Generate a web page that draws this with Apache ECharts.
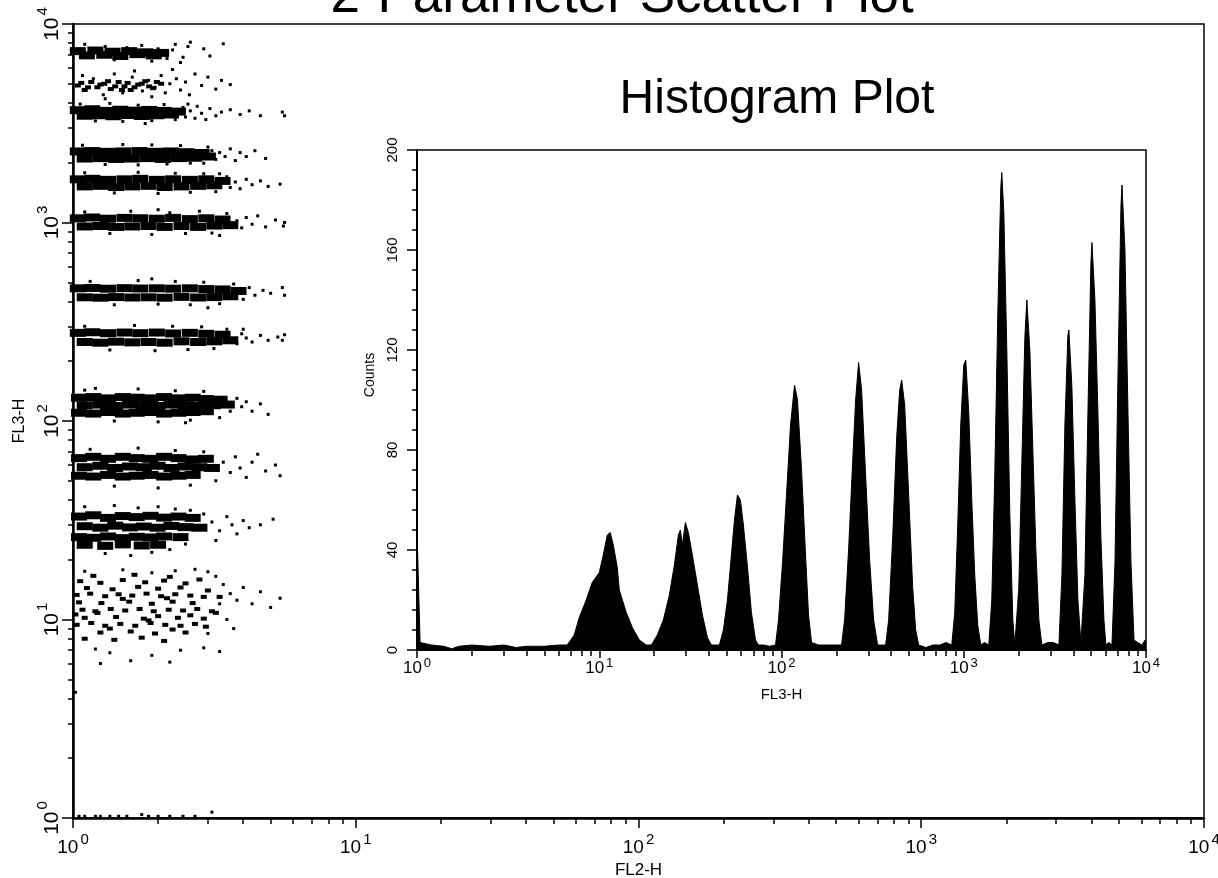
<!DOCTYPE html>
<html><head><meta charset="utf-8">
<script src="https://cdn.jsdelivr.net/npm/echarts@6/dist/echarts.min.js"></script>
<style>html,body{margin:0;padding:0;background:#fff}#c{width:1218px;height:878px}</style>
</head><body><div id="c"></div>
<script>
const mainTitle = '2-Parameter Scatter Plot';
const insetTitle = 'Histogram Plot';
const scatterXName = 'FL2-H';
const scatterYName = 'FL3-H';
const histXName = 'FL3-H';
const histYName = 'Counts';
const decadeTicks = [1, 10, 100, 1000, 10000];
const decadeExponents = ['0', '1', '2', '3', '4'];
const minorLogTicks = [2,3,4,5,6,7,8,9,20,30,40,50,60,70,80,90,200,300,400,500,600,700,800,900,2000,3000,4000,5000,6000,7000,8000,9000];
const countTicks = [0, 40, 80, 120, 160, 200];

// scatter populations (FL2-H, FL3-H); "core" = dense band, "spray" = scattered events
const popA_core = [[1.04,7300],[1.12,6950],[1.2,7350],[1.29,7000],[1.38,7250],[1.47,6900],[1.58,7300],[1.69,7050],[1.8,7200],[1.93,6950],[2.05,7150]];
const popA_spray = [[1.1,7900],[1.3,7700],[1.55,7600],[1.75,7800],[2.0,7500],[2.15,6700],[2.25,7400],[2.3,7900],[2.45,6800],[2.55,7700],[2.6,8100],[2.9,7500],[3.05,6900],[3.4,7950],[1.4,6600],[1.9,6500],[2.4,6400]];
const popB_core = [[1.04,4900],[1.1,4650],[1.16,5100],[1.22,4800],[1.29,5000],[1.36,4700],[1.45,5100],[1.52,4850],[1.6,4650],[1.7,4950],[1.8,5150],[1.92,4750],[2.05,5000],
  [1.07,5050],[1.13,4800],[1.25,4950],[1.33,5150],[1.41,4850],[1.49,4650],[1.56,5050],[1.65,4800],[1.75,5000],[1.86,4850],[1.98,5100]];
const popB_spray = [[1.08,5500],[1.18,5300],[1.28,4400],[1.4,5600],[1.5,4500],[1.62,5400],[1.76,4600],[1.85,5200],[1.95,4800],[2.05,5500],[2.12,4500],[2.2,5000],[2.32,5300],[2.4,4650],[2.5,5100],[2.58,4400],[2.7,5600],[2.85,4900],[3.0,5400],[3.2,4700],[3.35,5200],[3.6,4950],[1.65,5800],[2.25,5900],[1.3,4200],[1.9,4300]];
const popC_core = [[1.04,3680],[1.1,3450],[1.17,3720],[1.24,3470],[1.31,3650],[1.39,3430],[1.47,3700],[1.56,3480],[1.65,3660],[1.75,3440],[1.86,3690],[1.97,3470],[2.09,3650],[2.22,3500],[2.35,3620]];
const popC_spray = [[1.06,3950],[1.2,3250],[1.35,3980],[1.5,3230],[1.7,3900],[1.9,3260],[2.1,3930],[2.3,3300],[2.45,3800],[2.5,3400],[2.6,3650],[2.7,3350],[2.75,3850],[2.85,3550],[2.95,3300],[3.05,3750],[3.2,3450],[3.35,3600],[3.6,3700],[3.9,3500],[4.2,3650],[4.6,3450],[5.5,3600],[5.6,3450],[2.55,3950],[1.8,3150]];
const popD_core = [[1.04,2280],[1.1,2100],[1.17,2290],[1.25,2110],[1.33,2270],[1.42,2090],[1.51,2280],[1.61,2100],[1.72,2290],[1.83,2110],[1.95,2270],[2.08,2090],[2.22,2280],[2.37,2110],[2.52,2260],[2.68,2120],[2.85,2240],[3.0,2150]];
const popD_spray = [[1.08,2450],[1.3,1960],[1.5,2470],[1.7,1950],[1.9,2460],[2.15,1970],[2.4,2440],[2.6,1990],[3.1,2300],[3.2,2080],[3.3,2250],[3.45,2150],[3.6,2350],[3.75,2050],[3.9,2250],[4.1,2150],[4.4,2300],[4.8,2100],[3.0,2400],[2.9,1990]];
const popE_core = [[1.04,1650],[1.1,1520],[1.17,1660],[1.25,1530],[1.33,1640],[1.42,1510],[1.52,1650],[1.62,1520],[1.73,1660],[1.85,1530],[1.98,1640],[2.11,1510],[2.26,1650],[2.42,1520],[2.59,1640],[2.77,1530],[2.96,1650],[3.16,1540],[3.38,1620]];
const popE_spray = [[1.1,1780],[1.4,1410],[1.7,1790],[2.0,1400],[2.3,1770],[2.6,1420],[2.9,1760],[3.2,1430],[3.5,1700],[3.6,1500],[3.75,1600],[3.9,1480],[4.1,1650],[4.3,1550],[4.6,1620],[4.9,1520],[5.4,1560],[3.3,1760]];
const popF_core = [[1.04,1050],[1.1,955],[1.17,1060],[1.25,960],[1.33,1045],[1.42,950],[1.52,1055],[1.62,955],[1.73,1050],[1.85,960],[1.98,1045],[2.11,950],[2.26,1055],[2.42,960],[2.59,1040],[2.77,950],[2.96,1050],[3.16,965],[3.38,1035],[3.6,970]];
const popF_spray = [[1.1,1130],[1.35,880],[1.6,1140],[1.9,870],[2.2,1120],[2.5,880],[2.8,1140],[3.1,885],[3.5,1110],[3.8,1020],[3.95,940],[4.1,1060],[4.3,980],[4.5,1080],[4.8,950],[5.2,1030],[5.6,1000],[5.55,960],[2.0,1160],[3.3,860]];
const popG_core = [[1.04,466],[1.1,420],[1.17,468],[1.25,418],[1.33,464],[1.42,421],[1.52,467],[1.62,419],[1.73,465],[1.85,420],[1.98,466],[2.11,418],[2.26,464],[2.42,422],[2.59,466],[2.77,419],[2.96,462],[3.16,421],[3.38,460],[3.6,425],[3.85,452]];
const popG_spray = [[1.15,505],[1.4,385],[1.7,510],[2.0,388],[2.3,505],[2.6,385],[2.9,500],[3.3,390],[3.7,490],[4.0,410],[4.2,470],[4.4,430],[4.7,455],[5.0,440],[5.5,470],[5.6,430],[1.9,520],[3.0,372]];
const popH_core = [[1.04,278],[1.1,250],[1.17,280],[1.25,248],[1.33,277],[1.42,251],[1.52,279],[1.62,249],[1.73,277],[1.85,250],[1.98,279],[2.11,248],[2.26,276],[2.42,252],[2.59,278],[2.77,250],[2.96,275],[3.16,252],[3.38,272],[3.6,255]];
const popH_spray = [[1.1,300],[1.35,228],[1.65,303],[1.95,226],[2.25,300],[2.55,229],[2.85,298],[3.15,232],[3.5,290],[3.8,245],[3.95,275],[4.1,262],[4.3,250],[4.6,270],[4.9,255],[5.3,265],[5.6,272],[5.5,255],[4.0,290]];
const popI_core = [[1.05,131],[1.18,132],[1.33,130],[1.5,132],[1.68,131],[1.88,130],[2.1,132],[2.36,130],[2.65,131],[2.95,129],[3.3,128],
  [1.1,120],[1.25,121],[1.41,119],[1.59,121],[1.78,120],[1.99,119],[2.23,121],[2.5,120],[2.8,119],[3.12,120],[3.5,121],
  [1.05,110],[1.18,109],[1.33,111],[1.5,109],[1.68,110],[1.88,111],[2.1,109],[2.36,110],[2.65,111],[2.95,112]];
const popI_spray = [[1.1,143],[1.4,100],[1.7,145],[2.0,99],[2.3,142],[2.6,101],[2.9,141],[3.3,104],[3.6,112],[3.8,130],[3.95,118],[4.1,125],[4.3,112],[4.6,122],[4.9,108],[1.2,146],[2.5,98]];
const popJ_core = [[1.05,65],[1.18,66],[1.33,64.5],[1.5,66],[1.68,65],[1.88,64.5],[2.1,66],[2.36,65],[2.65,64],[2.95,64.5],
  [1.1,58.5],[1.25,59.5],[1.41,58],[1.59,59],[1.78,58.5],[1.99,59.5],[2.23,58],[2.5,59],[2.8,58.5],[3.1,58],
  [1.05,53],[1.18,52.5],[1.33,53.5],[1.5,52.5],[1.68,53],[1.88,53.5],[2.1,52.5],[2.36,53],[2.65,53.5]];
const popJ_spray = [[1.15,72],[1.4,47],[1.7,73],[2.0,46],[2.3,71],[2.6,47.5],[2.9,70],[3.2,50],[3.4,62],[3.6,55],[3.75,66],[3.9,58],[4.1,52],[4.3,62],[4.8,56],[5.2,60],[5.4,53],[4.5,68]];
const popK_core = [[1.05,33],[1.18,33.5],[1.33,32.5],[1.5,33.2],[1.68,32.8],[1.88,33.3],[2.1,32.6],[2.36,33],[2.65,32.5],
  [1.1,29.5],[1.25,29],[1.41,29.7],[1.59,29.1],[1.78,29.4],[1.99,29],[2.23,29.6],[2.5,29.2],[2.8,29],
  [1.05,26],[1.18,25.8],[1.33,26.2],[1.5,25.7],[1.68,26.1],[1.88,25.9],[2.1,26.2],[2.4,26],
  [1.1,23.8],[1.3,23.5],[1.5,23.9],[1.75,23.6],[2.0,23.8]];
const popK_spray = [[1.1,37],[1.4,37.5],[1.7,36.5],[2.0,37],[2.3,36],[2.6,35.5],[2.9,34],[3.1,31],[3.3,28],[3.5,33],[3.65,30],[3.8,27],[4.0,31.5],[4.2,29],[4.6,30],[5.1,32],[3.2,25],[1.3,21.5],[1.6,21],[1.9,21.8],[2.2,22.5],[2.5,24]];
const popL_core = [[1.06,15.6],[1.25,15.3],[1.5,15.8],[1.8,15.4],[2.1,15.7],[2.5,15.2],
  [1.03,13.3],[1.15,13.5],[1.3,13.1],[1.45,13.4],[1.62,13.2],[1.82,13.5],[2.05,13.1],[2.3,13.4],[2.6,13.2],[2.9,13.0],
  [1.08,11.2],[1.2,11.0],[1.36,11.3],[1.53,11.1],[1.72,11.3],[1.93,11.0],[2.18,11.2],[2.45,11.1],[2.75,11.3],[3.1,11.0],
  [1.03,9.4],[1.16,9.6],[1.3,9.3],[1.47,9.5],[1.66,9.3],[1.88,9.6],[2.12,9.4],[2.4,9.3],[2.7,9.5],
  [1.1,8.0],[1.4,7.9],[1.75,8.1],[2.1,7.8],
  [1.12,14.4],[1.38,14.2],[1.7,14.6],[2.0,14.3],[2.4,14.5],[1.05,12.2],[1.26,12.1],[1.58,12.3],[1.9,12.0],[2.25,12.3],[2.65,12.1],
  [1.1,10.2],[1.42,10.3],[1.78,10.1],[2.0,10.4],[2.35,10.2],[2.9,10.1],[1.25,8.6],[1.6,8.7],[1.95,8.5],[2.5,8.6],
  [1.18,16.6],[1.65,16.8],[2.2,16.4],[2.8,15.9],[3.0,14.0],[3.3,13.0],[3.2,10.8],[2.95,9.2],[1.02,10.6],[1.5,12.7],[2.15,12.8],[1.22,10.8],[1.85,9.9],[2.6,10.5],[1.35,9.0],[2.25,8.9]];
const popL_spray = [[1.1,17.5],[1.5,17.8],[1.9,17.2],[2.3,17.6],[2.7,17.9],[3.0,17.4],[3.2,16.5],[3.4,15.0],[3.6,13.5],[3.8,12.5],[4.0,14.5],[4.3,12.0],[4.6,13.8],[5.0,11.5],[5.4,12.8],[3.3,12.0],[3.5,10.0],[3.7,9.0],[3.0,8.5],[2.9,7.2],[2.4,7.0],[1.9,6.6],[1.6,6.2],[1.35,6.8],[1.2,7.1],[2.2,6.1],[3.3,6.9],[1.25,6.0]];
const offScaleEvents = [[1.05,1.02],[1.1,1.02],[1.2,1.02],[1.25,1.02],[1.35,1.02],[1.45,1.02],[1.55,1.02],[1.75,1.04],[1.85,1.02],[2.0,1.02],[2.2,1.02],[2.45,1.02],[2.7,1.02],[3.1,1.07],[1.02,4.3]];

// histogram of FL3-H: [channel value, counts]
const histFL3 = [[1,48],[1.015,48],[1.02,25],[1.035,25],[1.04,3],[1.2,2],[1.4,1.5],[1.55,0.5],[1.7,1.5],[2,2],[2.5,1.5],[3,2],[3.5,1],[4,1.5],[5,1.5],[6,2],[6.4,2],
  [6.67,2],[7.29,6],[7.77,13],[8.48,20],[9.15,27],[10.0,31],[10.52,38],[11.07,46],[11.49,47],[11.94,42],[12.56,33],[12.88,24],[14.07,15],[15.19,9],[16.59,4],[18.13,2],
  [19.31,2],[20.83,6],[22.47,12],[24.25,22],[25.83,34],[27.18,46],[27.87,48],[28.58,42],[29.69,51],[30.83,47],[32.43,38],[34.56,26],[36.81,14],[39.22,5],[41.25,2],[43.5,2],
  [45.63,2],[48.0,8],[50.5,20],[53.1,38],[55.2,52],[57.3,62],[59.5,60],[61.8,50],[65.1,33],[68.4,15],[72.0,4],[74.7,2],[80,2],[86,1.5],
  [92.7,2],[96.3,12],[101.3,35],[106.5,62],[112.1,90],[117.9,106],[122.4,100],[128.8,72],[135.5,38],[140.7,14],[146.2,3],[160,2],[180,2],[200,2],
  [213.6,2],[221.9,12],[233.4,40],[245.6,75],[255.1,100],[264.9,115],[275.2,104],[289.4,70],[304.5,36],[320.3,12],[336.9,2],[355,2],
  [372.8,2],[387.2,12],[407.4,45],[428.5,85],[445.1,104],[456.5,108],[474.2,98],[498.7,62],[524.6,25],[544.8,8],[565.7,2],[620,1],[680,2],[740,2],[800,3],
  [859.4,2],[892.5,15],[926.9,50],[962.7,90],[1000,114],[1025.6,116],[1065.3,95],[1106.6,60],[1149.2,30],[1193.7,10],[1239.9,2],[1300,3],
  [1372,2],[1425,20],[1480,70],[1538,135],[1597,185],[1617,191],[1659,175],[1723,120],[1789,55],[1859,12],[1906,2],
  [1931,2],[2005,25],[2083,75],[2164,125],[2219,140],[2305,120],[2394,80],[2487,40],[2583,12],[2683,2],[2900,3],[3100,3],
  [3327,2],[3456,30],[3589,90],[3728,126],[3775,128],[3922,105],[4073,60],[4231,20],[4394,3],
  [4450,3],[4622,30],[4801,95],[4986,155],[5050,163],[5245,140],[5448,95],[5657,45],[5877,12],[6028,2],[6250,3],
  [6505,2],[6757,35],[7019,110],[7289,178],[7383,186],[7665,160],[7963,95],[8271,35],[8594,4],[9000,3],[9500,2],[9900,4],[10000,3]];

const denseCoreEvents = [].concat(popA_core, popC_core, popD_core, popE_core, popF_core, popG_core, popH_core, popI_core, popJ_core, popK_core);
const looseCoreEvents = [].concat(popB_core, popL_core);
const sprayEvents = [].concat(popA_spray, popB_spray, popC_spray, popD_spray, popE_spray, popF_spray, popG_spray, popH_spray, popI_spray, popJ_spray, popK_spray, popL_spray, offScaleEvents);

const FONT = "'Liberation Sans', Arial, sans-serif";

function decadeLabel(v) {
  const i = decadeTicks.findIndex(d => Math.abs(d - v) / d < 1e-6);
  return i < 0 ? '' : '{b|10}{s|' + decadeExponents[i] + '}';
}
function richFor(base, sup, boxH) {
  return {
    b: { fontSize: base, fontFamily: FONT, color: '#000', lineHeight: boxH, verticalAlign: 'bottom' },
    s: { fontSize: sup, fontFamily: FONT, color: '#000', lineHeight: 1, padding: [0, 0, 0, 2], verticalAlign: 'top' }
  };
}
const solid = { color: '#000', opacity: 1, borderWidth: 0 };

const chart = echarts.init(document.getElementById('c'), null, { renderer: 'canvas' });
chart.setOption({
  animation: false,
  backgroundColor: '#fff',
  grid: [
    { left: 73, top: 24, width: 1131, height: 794, show: true, borderColor: '#000', borderWidth: 1.5, backgroundColor: 'transparent', containLabel: false, outerBoundsMode: 'none' },
    { left: 417, top: 150, width: 729, height: 500, show: true, borderColor: '#000', borderWidth: 1.5, backgroundColor: '#fff', containLabel: false, outerBoundsMode: 'none' }
  ],
  xAxis: [
    { gridIndex: 0, type: 'log', min: 1, max: 10000, position: 'bottom',
      name: scatterXName, nameLocation: 'middle', nameGap: 41,
      nameTextStyle: { fontSize: 17, fontFamily: FONT, color: '#000' },
      axisLine: { show: true, lineStyle: { color: '#000', width: 2.5 } },
      axisTick: { show: true, customValues: decadeTicks, length: 10, lineStyle: { color: '#000', width: 1.5 } },
      axisLabel: { customValues: decadeTicks, margin: 14, formatter: decadeLabel, rich: richFor(19, 15, 25) },
      splitLine: { show: false } },
    { gridIndex: 0, type: 'log', min: 1, max: 10000, position: 'bottom',
      axisLine: { show: false }, axisLabel: { show: false }, splitLine: { show: false },
      axisTick: { show: true, customValues: minorLogTicks, length: 6, lineStyle: { color: '#000', width: 1.5 } } },
    { gridIndex: 1, type: 'log', min: 1, max: 10000, position: 'bottom',
      name: histXName, nameLocation: 'middle', nameGap: 37,
      nameTextStyle: { fontSize: 15, fontFamily: FONT, color: '#000' },
      axisLine: { show: true, lineStyle: { color: '#000', width: 2 } },
      axisTick: { show: true, customValues: decadeTicks, length: 8, lineStyle: { color: '#000', width: 1.5 } },
      axisLabel: { customValues: decadeTicks, margin: 7, formatter: decadeLabel, rich: richFor(17, 13, 20) },
      splitLine: { show: false } },
    { gridIndex: 1, type: 'log', min: 1, max: 10000, position: 'bottom',
      axisLine: { show: false }, axisLabel: { show: false }, splitLine: { show: false },
      axisTick: { show: true, customValues: minorLogTicks, length: 6, lineStyle: { color: '#000', width: 1.5 } } }
  ],
  yAxis: [
    { gridIndex: 0, type: 'log', min: 1, max: 10000, position: 'left',
      name: scatterYName, nameLocation: 'middle', nameGap: 44,
      nameTextStyle: { fontSize: 16, fontFamily: FONT, color: '#000' },
      axisLine: { show: true, lineStyle: { color: '#000', width: 2.5 } },
      axisTick: { show: true, customValues: decadeTicks, length: 11, lineStyle: { color: '#000', width: 1.5 } },
      axisLabel: { customValues: decadeTicks, rotate: 90, margin: 10, formatter: decadeLabel, rich: richFor(21, 15, 28) },
      splitLine: { show: false } },
    { gridIndex: 0, type: 'log', min: 1, max: 10000, position: 'left',
      axisLine: { show: false }, axisLabel: { show: false }, splitLine: { show: false },
      axisTick: { show: true, customValues: minorLogTicks, length: 5, lineStyle: { color: '#000', width: 1.5 } } },
    { gridIndex: 1, type: 'value', min: 0, max: 200, interval: 40, position: 'left',
      name: histYName, nameLocation: 'middle', nameGap: 31,
      nameTextStyle: { fontSize: 14, fontFamily: FONT, color: '#000', padding: [0, 0, 0, 50] },
      axisLine: { show: true, lineStyle: { color: '#000', width: 2 } },
      axisTick: { show: true, length: 10, lineStyle: { color: '#000', width: 1.5 } },
      minorTick: { show: true, splitNumber: 5, length: 5, lineStyle: { color: '#000', width: 1.5 } },
      axisLabel: { rotate: 90, margin: 17, fontSize: 15, fontFamily: FONT, color: '#000',
        formatter: v => (countTicks.indexOf(v) >= 0 ? String(v) : '') },
      splitLine: { show: false }, minorSplitLine: { show: false } }
  ],
  series: [
    { type: 'scatter', xAxisIndex: 0, yAxisIndex: 0, data: denseCoreEvents, symbol: 'rect', symbolSize: [16, 8],
      itemStyle: solid, emphasis: { disabled: true }, silent: true },
    { type: 'scatter', xAxisIndex: 0, yAxisIndex: 0, data: looseCoreEvents, symbol: 'rect', symbolSize: [6, 4],
      itemStyle: solid, emphasis: { disabled: true }, silent: true },
    { type: 'scatter', xAxisIndex: 0, yAxisIndex: 0, data: sprayEvents, symbol: 'rect', symbolSize: 3,
      itemStyle: solid, emphasis: { disabled: true }, silent: true },
    { type: 'line', xAxisIndex: 2, yAxisIndex: 2, data: histFL3, symbol: 'none', smooth: false,
      lineStyle: { color: '#000', width: 1 }, areaStyle: { color: '#000', opacity: 1 }, silent: true }
  ],
  graphic: [
    { type: 'text', x: 622, y: -3, z: 100, style: { text: mainTitle, fontSize: 53, fontFamily: FONT, fill: '#000', align: 'center', verticalAlign: 'middle' } },
    { type: 'text', x: 777, y: 100, z: 100, style: { text: insetTitle, fontSize: 48, fontFamily: FONT, fill: '#000', align: 'center', verticalAlign: 'middle' } }
  ]
});
</script>
</body></html>
